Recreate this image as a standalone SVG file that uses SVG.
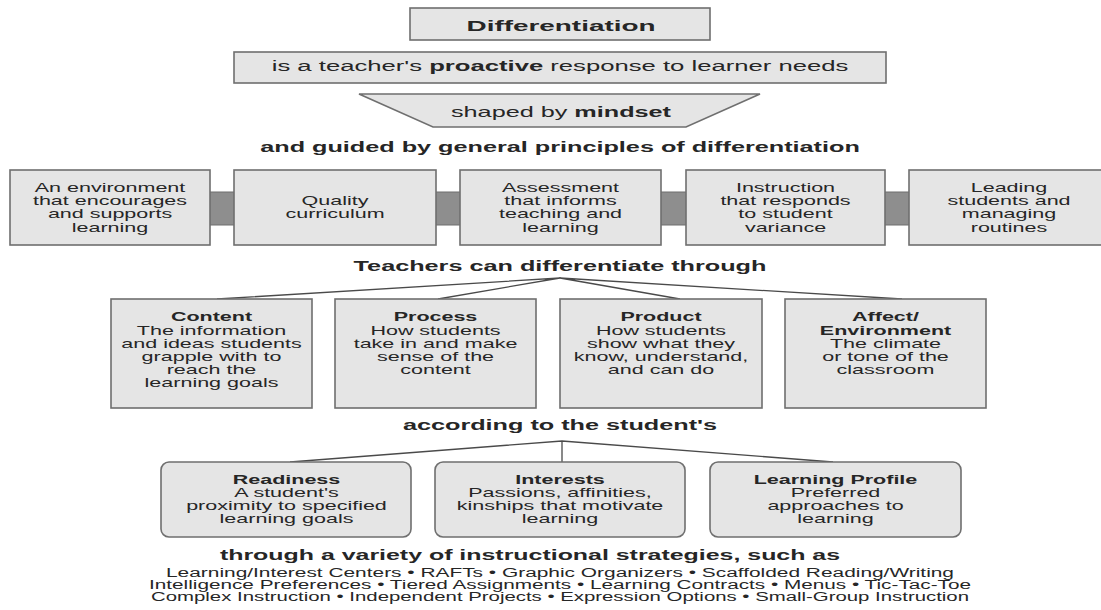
<svg xmlns="http://www.w3.org/2000/svg" width="1101" height="610" viewBox="0 0 1101 610">
<style>
text{font-family:"Liberation Sans",Arial,Helvetica,sans-serif;fill:#262626;text-anchor:middle}
.h{font-size:14.5px;font-weight:bold}
.hn{font-size:14.5px;font-weight:normal}
.bt{font-size:13.2px}
.b{font-weight:bold}
.st{font-size:12.5px}
.box{fill:#e5e5e5;stroke:#6f6f6f;stroke-width:1.6}
.bar{fill:#8e8e8e;stroke:#6f6f6f;stroke-width:1}
.ln{fill:none;stroke:#4a4a4a;stroke-width:1.3}
</style>
<rect width="1101" height="610" fill="#ffffff"/>

<g id="differentiation">
<rect class="box" x="410" y="8" width="300" height="32"/>
<g transform="translate(561 30.5) scale(1.8 1)"><text class="h" style="font-size:15.5px">Differentiation</text></g>
</g>

<g id="response">
<rect class="box" x="234" y="52" width="652" height="31"/>
<g transform="translate(560 71) scale(1.77 1)"><text class="hn">is a teacher's <tspan class="b">proactive</tspan> response to learner needs</text></g>
</g>

<g id="mindset">
<polygon class="box" points="359,94 760,94 686,127 433,127"/>
<g transform="translate(561 116.5) scale(1.74 1)"><text class="hn">shaped by <tspan class="b">mindset</tspan></text></g>
</g>

<g id="heading-principles" transform="translate(560 151.5) scale(1.74 1)"><text class="h">and guided by general principles of differentiation</text></g>

<g id="bars">
<rect class="bar" x="209" y="192" width="26" height="33"/>
<rect class="bar" x="435" y="192" width="26" height="33"/>
<rect class="bar" x="660" y="192" width="27" height="33"/>
<rect class="bar" x="884" y="192" width="26" height="33"/>
</g>

<g id="principle-environment">
<rect class="box" x="10" y="170" width="200" height="75"/>
<g transform="translate(110 0) scale(1.63 1)" class="bt"><text y="192">An environment</text><text y="205.5">that encourages</text><text y="218.5">and supports</text><text y="232">learning</text></g>
</g>
<g id="principle-curriculum">
<rect class="box" x="234" y="170" width="202" height="75"/>
<g transform="translate(335 0) scale(1.63 1)" class="bt"><text y="205.5">Quality</text><text y="218.5">curriculum</text></g>
</g>
<g id="principle-assessment">
<rect class="box" x="460" y="170" width="201" height="75"/>
<g transform="translate(560.5 0) scale(1.63 1)" class="bt"><text y="192">Assessment</text><text y="205.5">that informs</text><text y="218.5">teaching and</text><text y="232">learning</text></g>
</g>
<g id="principle-instruction">
<rect class="box" x="686" y="170" width="199" height="75"/>
<g transform="translate(785.5 0) scale(1.63 1)" class="bt"><text y="192">Instruction</text><text y="205.5">that responds</text><text y="218.5">to student</text><text y="232">variance</text></g>
</g>
<g id="principle-routines">
<rect class="box" x="909" y="170" width="200" height="75"/>
<g transform="translate(1009 0) scale(1.63 1)" class="bt"><text y="192">Leading</text><text y="205.5">students and</text><text y="218.5">managing</text><text y="232">routines</text></g>
</g>

<g id="heading-through" transform="translate(560 271) scale(1.74 1)"><text class="h">Teachers can differentiate through</text></g>

<g id="connectors">
<polyline class="ln" points="217,299 560,278 438,299"/>
<polyline class="ln" points="680,299 560,278 902,299"/>
<polyline class="ln" points="290,462 562,441 833,462"/>
<line class="ln" x1="562" y1="441" x2="562" y2="462"/>
</g>

<g id="content">
<rect class="box" x="111" y="299" width="201" height="109"/>
<g transform="translate(211.5 0) scale(1.63 1)" class="bt"><text y="321.5" class="b">Content</text><text y="335">The information</text><text y="348">and ideas students</text><text y="361.5">grapple with to</text><text y="374.5">reach the</text><text y="387.5">learning goals</text></g>
</g>
<g id="process">
<rect class="box" x="335" y="299" width="201" height="109"/>
<g transform="translate(435.5 0) scale(1.63 1)" class="bt"><text y="321.5" class="b">Process</text><text y="335">How students</text><text y="348">take in and make</text><text y="361.5">sense of the</text><text y="374.5">content</text></g>
</g>
<g id="product">
<rect class="box" x="560" y="299" width="202" height="109"/>
<g transform="translate(661 0) scale(1.63 1)" class="bt"><text y="321.5" class="b">Product</text><text y="335">How students</text><text y="348">show what they</text><text y="361.5">know, understand,</text><text y="374.5">and can do</text></g>
</g>
<g id="affect">
<rect class="box" x="785" y="299" width="201" height="109"/>
<g transform="translate(885.5 0) scale(1.63 1)" class="bt"><text y="321.5" class="b">Affect/</text><text y="335" class="b">Environment</text><text y="348">The climate</text><text y="361.5">or tone of the</text><text y="374.5">classroom</text></g>
</g>

<g id="heading-according" transform="translate(560 429.5) scale(1.74 1)"><text class="h">according to the student's</text></g>

<g id="readiness">
<rect class="box" x="161" y="462" width="250" height="75" rx="8"/>
<g transform="translate(286.5 0) scale(1.63 1)" class="bt"><text y="484" class="b">Readiness</text><text y="497">A student's</text><text y="510.5">proximity to specified</text><text y="523.5">learning goals</text></g>
</g>
<g id="interests">
<rect class="box" x="435" y="462" width="250" height="75" rx="8"/>
<g transform="translate(560 0) scale(1.63 1)" class="bt"><text y="484" class="b">Interests</text><text y="497">Passions, affinities,</text><text y="510.5">kinships that motivate</text><text y="523.5">learning</text></g>
</g>
<g id="learning-profile">
<rect class="box" x="710" y="462" width="251" height="75" rx="8"/>
<g transform="translate(835.5 0) scale(1.63 1)" class="bt"><text y="484" class="b">Learning Profile</text><text y="497">Preferred</text><text y="510.5">approaches to</text><text y="523.5">learning</text></g>
</g>

<g id="heading-strategies" transform="translate(530 559.5) scale(1.72 1)"><text class="h">through a variety of instructional strategies, such as</text></g>

<g id="strategies" class="st">
<text x="560" y="577" textLength="788" lengthAdjust="spacingAndGlyphs">Learning/Interest Centers • RAFTs • Graphic Organizers • Scaffolded Reading/Writing</text>
<text x="560" y="589" textLength="822" lengthAdjust="spacingAndGlyphs">Intelligence Preferences • Tiered Assignments • Learning Contracts • Menus • Tic-Tac-Toe</text>
<text x="560" y="601" textLength="818" lengthAdjust="spacingAndGlyphs">Complex Instruction • Independent Projects • Expression Options • Small-Group Instruction</text>
</g>
</svg>
